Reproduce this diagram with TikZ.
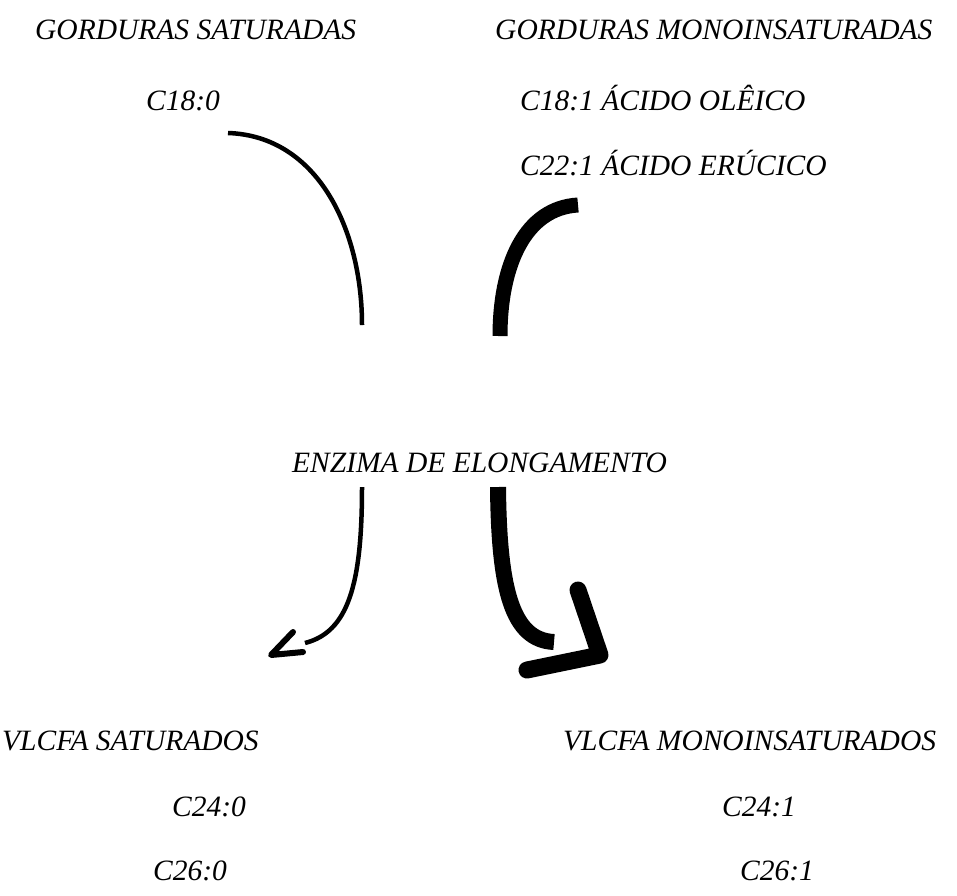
\documentclass[tikz,border=0pt]{standalone}
\usepackage{fontspec}
\setmainfont{Liberation Serif}
\begin{document}
\begin{tikzpicture}[x=1pt,y=-1pt,
  lbl/.style={inner sep=0pt, anchor=base west, font=\fontsize{29.5}{35}\selectfont\itshape},
  thinline/.style={line width=4.5pt},
  thickline/.style={line width=15pt},
  thinhead/.style={line width=6pt, line cap=round, line join=round},
  thickhead/.style={line width=17pt, line cap=round, line join=round}]
\useasboundingbox (0,0) rectangle (957,895);

% texts
\node[lbl] (gs)  at (35,39)   {GORDURAS SATURADAS};
\node[lbl] (gm)  at (495,39)  {GORDURAS MONOINSATURADAS};
\node[lbl] (c180) at (146,110) {C18:0};
\node[lbl] (c181) at (520,110) {C18:1 ÁCIDO OLÊICO};
\node[lbl] (c221) at (520,175) {C22:1 ÁCIDO ERÚCICO};
\node[lbl] (enz) at (292,472) {ENZIMA DE ELONGAMENTO};
\node[lbl] (vs)  at (2,750)   {VLCFA SATURADOS};
\node[lbl] (vm)  at (563,750) {VLCFA MONOINSATURADOS};
\node[lbl] (c240) at (172,816) {C24:0};
\node[lbl] (c260) at (153,880) {C26:0};
\node[lbl] (c241) at (722,816) {C24:1};
\node[lbl] (c261) at (740,880) {C26:1};

% coordinates
\coordinate (a1s) at (228,133);
\coordinate (a1e) at (362,325);
\coordinate (a2s) at (578,205);
\coordinate (a2e) at (500,336);
\coordinate (a3s) at (362,487);
\coordinate (a3e) at (305,643);
\coordinate (h3a) at (293,632);
\coordinate (h3t) at (271,655);
\coordinate (h3b) at (303,652);
\coordinate (a4s) at (498,487);
\coordinate (a4e) at (554,642);
\coordinate (h4a) at (578,590);
\coordinate (h4t) at (600,655);
\coordinate (h4b) at (527,670);

% upper arcs
\draw[thinline] (a1s) .. controls (318,136) and (362,230) .. (a1e);
\draw[thickline] (a2s) .. controls (525,208) and (500,265) .. (a2e);

% lower arrows
\draw[thinline] (a3s) .. controls (362,585) and (348,632) .. (a3e);
\draw[thinhead] (h3a) -- (h3t) -- (h3b);
\draw[line width=16pt] (a4s) .. controls (499,590) and (512,640) .. (a4e);
\draw[thickhead] (h4a) -- (h4t) -- (h4b);
\end{tikzpicture}
\end{document}
